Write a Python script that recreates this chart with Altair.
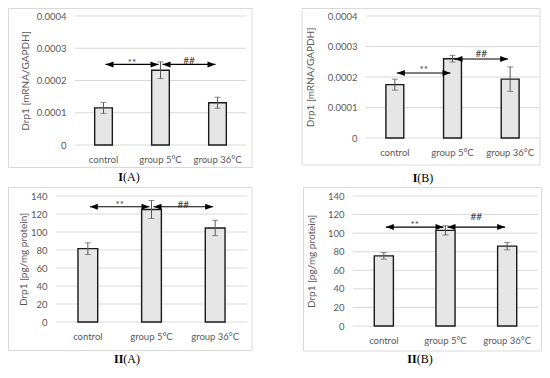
import altair as alt
import pandas as pd

# ---------------- data ----------------
categories = ["control", "group 5°C", "group 36°C"]

sig_labels = ["**", "##"]
sig_from = ["control", "group 5°C"]
sig_to = ["group 5°C", "group 36°C"]

ia_mean = [0.000115, 0.000232, 0.000131]
ia_err = [0.000017, 0.000026, 0.000017]
ia_sig = [0.000250, 0.000250]

ib_mean = [0.000175, 0.000260, 0.000193]
ib_err = [0.000018, 0.000011, 0.000040]
ib_sig = [0.000213, 0.000259]

iia_mean = [81.5, 125.0, 104.5]
iia_err = [6.5, 10.0, 8.5]
iia_sig = [128.0, 128.0]

iib_mean = [75.5, 103.0, 86.0]
iib_err = [3.5, 5.0, 4.0]
iib_sig = [106.5, 106.5]

mrna_ticks = [0, 0.0001, 0.0002, 0.0003, 0.0004]
protein_ticks = [0, 20, 40, 60, 80, 100, 120, 140]

mrna_title = "Drp1 [mRNA/GAPDH]"
protein_title = "Drp1 [pg/mg protein]"

# ---------------- style ----------------
FONT = "Lato"
GREY = "#595959"
GRID = "#d9d9d9"
RIGHT_TRI = "M -1 -0.75 L 1 0 L -1 0.75 Z"
LEFT_TRI = "M 1 -0.75 L -1 0 L 1 0.75 Z"
CW, CH = 267, 179  # size of each panel cell


def panel(mean, err, sig, ticks, ytitle, fmt, lab_bold, lab_rest, g):
    pl, pr, pt, pb = g["pl"], g["pr"], g["pt"], g["pb"]
    bars = pd.DataFrame({
        "cat": categories,
        "mean": mean,
        "lo": [m - e for m, e in zip(mean, err)],
        "hi": [m + e for m, e in zip(mean, err)],
    })
    sigs = pd.DataFrame({"label": sig_labels, "from": sig_from, "to": sig_to, "y": sig})
    grid = pd.DataFrame({"t": ticks})
    one = pd.DataFrame({"k": [0]})

    xscale = alt.Scale(domain=categories, range=[pl, pr], paddingInner=0.69, paddingOuter=0.345)
    yscale = alt.Scale(domain=[0, ticks[-1]], range=[pb, pt], nice=False, zero=True)

    xaxis = alt.Axis(
        title=None, orient="bottom", offset=pb - CH, labelAngle=0, ticks=False, tickSize=0,
        domain=False, labelPadding=9, labelFont=FONT, labelFontSize=9.5, labelColor=GREY,
        grid=False)
    yaxis = alt.Axis(
        values=ticks, format=fmt, title=ytitle, orient="left", offset=-pl,
        titleX=g["tx"] - pl, titleY=(pt + pb) / 2, titleAngle=270, titleAlign="center",
        titleBaseline="middle", titleFont=FONT, titleFontSize=10,
        titleFontWeight="normal", titleColor=GREY,
        labelFont=FONT, labelFontSize=9.5, labelColor=GREY, labelPadding=9,
        ticks=False, tickSize=0, domain=False, grid=False)

    def X(f, **kw):
        return alt.X(f, scale=xscale, axis=xaxis, **kw)

    def Y(f):
        return alt.Y(f, scale=yscale, axis=yaxis)

    box = alt.Chart(one).mark_rect(fillOpacity=0, stroke=GRID, strokeWidth=1).encode(
        x=alt.value(g["bx0"]), x2=alt.value(g["bx1"]),
        y=alt.value(g["by0"]), y2=alt.value(g["by1"]))
    gridlines = alt.Chart(grid).mark_rule(color=GRID, strokeWidth=1).encode(
        y=Y("t:Q"), x=alt.value(pl), x2=alt.value(pr))

    bar = alt.Chart(bars).mark_bar(fill="#e7e6e6", stroke="#1a1a1a", strokeWidth=1.4).encode(
        x=X("cat:N"), y=Y("mean:Q"))
    err_rule = alt.Chart(bars).mark_rule(color=GREY, strokeWidth=1).encode(
        x=X("cat:N"), y=Y("lo:Q"), y2="hi:Q")
    cap_hi = alt.Chart(bars).mark_tick(color=GREY, size=6, thickness=1).encode(
        x=X("cat:N"), y=Y("hi:Q"))
    cap_lo = alt.Chart(bars).mark_tick(color=GREY, size=6, thickness=1).encode(
        x=X("cat:N"), y=Y("lo:Q"))

    sig_line = alt.Chart(sigs).mark_rule(color="black", strokeWidth=1.1, xOffset=2, x2Offset=-2).encode(
        x=X("from:N", bandPosition=0.5),
        x2=alt.X2("to:N", bandPosition=0.5), y=Y("y:Q"))
    head_l = alt.Chart(sigs).mark_point(shape=LEFT_TRI, filled=True, size=64, color="black",
                                        opacity=1, xOffset=6).encode(
        x=X("from:N"), y=Y("y:Q"))
    head_r = alt.Chart(sigs).mark_point(shape=RIGHT_TRI, filled=True, size=64, color="black",
                                        opacity=1, xOffset=-6).encode(
        x=X("to:N"), y=Y("y:Q"))

    half_step = (pr - pl) / 3 / 2
    t_star = alt.Chart(sigs).transform_filter(alt.datum.label == "**").mark_text(
        font=FONT, fontSize=10, color="#404040", baseline="alphabetic",
        dx=half_step, dy=g["sdy"][0]).encode(
        x=X("from:N"), y=Y("y:Q"), text="label:N")
    t_hash = alt.Chart(sigs).transform_filter(alt.datum.label == "##").mark_text(
        font=FONT, fontSize=10, color="#404040", baseline="alphabetic",
        dx=half_step, dy=g["sdy"][1]).encode(
        x=X("from:N"), y=Y("y:Q"), text="label:N")

    fs = 12
    bold_w = 0.389 * len(lab_bold) * fs
    rest_w = (0.333 * 2 + (0.722 if "A" in lab_rest else 0.667)) * fs
    split = g["lx"] - (bold_w + rest_w) / 2 + bold_w
    lab1 = alt.Chart(one).mark_text(font="Liberation Serif", fontSize=fs, fontWeight="bold",
                                    align="right", baseline="middle", color="black").encode(
        x=alt.value(split), y=alt.value(g["ly"]), text=alt.value(lab_bold))
    lab2 = alt.Chart(one).mark_text(font="Liberation Serif", fontSize=fs, fontWeight="normal",
                                    align="left", baseline="middle", color="black").encode(
        x=alt.value(split), y=alt.value(g["ly"]), text=alt.value(lab_rest))

    return alt.layer(box, gridlines, bar, err_rule, cap_hi, cap_lo, sig_line, head_l, head_r,
                     t_star, t_hash, lab1, lab2).properties(width=CW, height=CH)


# panel geometry, in pixels inside each cell
g_ia = dict(pl=67, pr=238, pt=8, pb=137, tx=17, bx0=0.5, bx1=244, by0=0.5, by1=159.5,
            lx=121, ly=169, sdy=(1.7, -0.4))
g_ib = dict(pl=91, pr=264, pt=8, pb=130, tx=35.5, bx0=27, bx1=265, by0=0.5, by1=157,
            lx=148, ly=170, sdy=(-0.3, -2.4))
g_iia = dict(pl=48, pr=239, pt=9, pb=135, tx=15.5, bx0=0.5, bx1=244, by0=0.5, by1=163.5,
             lx=119, ly=172, sdy=(1.3, 0.9))
g_iib = dict(pl=78, pr=263, pt=9, pb=139, tx=36.7, bx0=28.5, bx1=266.5, by0=0.5, by1=164,
             lx=145, ly=172, sdy=(0.7, -7.4))

p_ia = panel(ia_mean, ia_err, ia_sig, mrna_ticks, mrna_title, "~f", "I", "(A)", g_ia)
p_ib = panel(ib_mean, ib_err, ib_sig, mrna_ticks, mrna_title, "~f", "I", "(B)", g_ib)
p_iia = panel(iia_mean, iia_err, iia_sig, protein_ticks, protein_title, "d", "II", "(A)", g_iia)
p_iib = panel(iib_mean, iib_err, iib_sig, protein_ticks, protein_title, "d", "II", "(B)", g_iib)

chart = alt.concat(p_ia, p_ib, p_iia, p_iib, columns=2, spacing=0).properties(
    padding=0
).configure_view(stroke=None).configure_concat(spacing=0)

chart.save("out.html", embed_options={"renderer": "svg", "actions": False})
